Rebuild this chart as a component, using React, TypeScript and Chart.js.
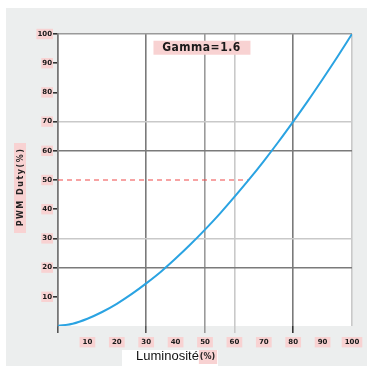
import React, { useEffect, useRef } from "react";
import { Chart, registerables } from "chart.js";

Chart.register(...registerables);

const luminosity = [0, 5, 10, 15, 20, 25, 30, 35, 40, 45, 50, 55, 60, 65, 70, 75, 80, 85, 90, 95, 100];
const pwmDuty = [0, 0.8, 2.5, 4.8, 7.6, 10.9, 14.6, 18.6, 23.1, 27.9, 33.0, 38.4, 44.2, 50.2, 56.5, 63.1, 70.0, 77.1, 84.5, 92.1, 100];
const refLineX = [0, 65];
const refLineY = [50, 50];
const xTickLabels = ["10", "20", "30", "40", "50", "60", "70", "80", "90", "100"];
const yTickLabels = ["10", "20", "30", "40", "50", "60", "70", "80", "90", "100"];
const annotationText = "Gamma=1.6";
const xTitleMain = "Luminosité";
const xTitleUnit = "(%)";
const yTitle = "PWM Duty(%)";

const DARK = "#7a7a7a";
const MED = "#9a9a9a";
const LIGHT = "#c9c9c9";
const PINK = "#f8d2d2";

const xGridStyle: Record<number, string> = { 30: DARK, 50: MED, 60: LIGHT, 80: DARK, 100: LIGHT };
const yGridStyle: Record<number, string> = { 20: DARK, 30: LIGHT, 60: DARK, 70: LIGHT, 100: MED };
const xTickStyle: Record<number, string> = { 0: "#555", 30: "#555", 50: MED, 60: LIGHT, 80: "#333" };

const decorPlugin = {
  id: "decor",
  beforeDraw(chart: any) {
    const c = chart.ctx;
    c.save();
    c.fillStyle = "#ffffff";
    c.fillRect(0, 0, chart.width, chart.height);
    c.fillStyle = "#eceeee";
    c.fillRect(6, 8, chart.width - 6, chart.height - 8);
    const a = chart.chartArea;
    c.fillStyle = "#ffffff";
    c.fillRect(a.left, a.top, a.right - a.left, a.bottom - a.top);
    c.restore();
  },
  afterDraw(chart: any) {
    const c = chart.ctx;
    const xs = chart.scales.x;
    const ys = chart.scales.y;
    c.save();
    // Gamma annotation
    const gx = xs.getPixelForValue(48.8);
    const gy = ys.getPixelForValue(95.3);
    c.fillStyle = PINK;
    c.fillRect(gx - 48, gy - 7, 97, 14);
    c.font = "bold 12px 'DejaVu Sans Condensed', 'DejaVu Sans'";
    (c as any).letterSpacing = "0.5px";
    c.fillStyle = "#1a1a1a";
    c.textAlign = "center";
    c.textBaseline = "middle";
    c.fillText(annotationText, gx, gy + 0.5);
    (c as any).letterSpacing = "0px";
    // X title
    c.fillStyle = "#ffffff";
    c.fillRect(122, 350, 96, 16);
    c.font = "13px 'Liberation Sans'";
    c.fillStyle = "#111";
    c.textAlign = "left";
    c.textBaseline = "middle";
    c.fillText(xTitleMain, 136, 356);
    const mw = c.measureText(xTitleMain).width;
    c.font = "bold 8px 'DejaVu Sans'";
    const uw = c.measureText(xTitleUnit).width;
    c.fillStyle = PINK;
    c.fillRect(136 + mw, 350, uw + 3, 14);
    c.fillStyle = "#222";
    c.fillText(xTitleUnit, 137 + mw, 357);
    // Y title
    c.translate(20, 188);
    c.rotate(-Math.PI / 2);
    c.fillStyle = PINK;
    c.fillRect(-45, -6, 90, 12);
    c.font = "bold 8px 'DejaVu Sans'";
    (c as any).letterSpacing = "1.5px";
    c.fillStyle = "#222";
    c.textAlign = "center";
    c.textBaseline = "middle";
    c.fillText(yTitle, 1, 0.5);
    c.restore();
  },
};

export default function App() {
  const ref = useRef<HTMLCanvasElement>(null);
  useEffect(() => {
    if (!ref.current) return;
    const chart = new Chart(ref.current, {
      type: "line",
      data: {
        datasets: [
          {
            data: luminosity.map((x, i) => ({ x, y: pwmDuty[i] })),
            borderColor: "#2aa3e2",
            borderWidth: 2,
            pointRadius: 0,
            tension: 0.3,
            fill: false,
          },
          {
            data: refLineX.map((x, i) => ({ x, y: refLineY[i] })),
            borderColor: "#f04848",
            borderWidth: 1.2,
            borderDash: [5, 4],
            pointRadius: 0,
            fill: false,
          },
        ],
      },
      options: {
        responsive: false,
        animation: false,
        plugins: { legend: { display: false }, tooltip: { enabled: false }, title: { display: false } },
        layout: { padding: { left: 0, top: 34, right: 15, bottom: 0 } },
        scales: {
          x: {
            type: "linear",
            min: 0,
            max: 100,
            afterFit: (s: any) => { s.height = 40; },
            border: { display: false },
            grid: {
              color: (ctx: any) => xGridStyle[ctx.tick?.value] || "rgba(0,0,0,0)",
              tickColor: (ctx: any) => xTickStyle[ctx.tick?.value] || "rgba(0,0,0,0)",
              lineWidth: 1.6,
              tickLength: 7,
              drawOnChartArea: true,
            },
            ticks: {
              stepSize: 10,
              maxRotation: 0,
              autoSkip: false,
              padding: 5,
              color: "#1a1a1a",
              font: { size: 7, weight: "bold", family: "DejaVu Sans" },
              callback: (v: any) => (v === 0 ? "" : xTickLabels[Math.round(v / 10) - 1]),
              showLabelBackdrop: true,
              backdropColor: (ctx: any) => (ctx.tick?.value === 0 ? "rgba(0,0,0,0)" : PINK),
              backdropPadding: { x: 3, y: 1 },
            } as any,
          },
          y: {
            type: "linear",
            min: 0,
            max: 100,
            afterFit: (s: any) => { s.width = 58; },
            border: { display: true, color: "#777", width: 1.8 },
            grid: {
              color: (ctx: any) => yGridStyle[ctx.tick?.value] || "rgba(0,0,0,0)",
              tickColor: (ctx: any) => (ctx.tick?.value === 0 ? "rgba(0,0,0,0)" : "#333"),
              lineWidth: 1.6,
              tickLength: 6,
            },
            ticks: {
              stepSize: 10,
              autoSkip: false,
              padding: 0,
              color: "#1a1a1a",
              font: { size: 7, weight: "bold", family: "DejaVu Sans" },
              callback: (v: any) => (v === 0 ? "" : yTickLabels[Math.round(v / 10) - 1]),
              showLabelBackdrop: true,
              backdropColor: (ctx: any) => (ctx.tick?.value === 0 ? "rgba(0,0,0,0)" : PINK),
              backdropPadding: { x: 1, y: 1 },
            } as any,
          },
        },
      },
      plugins: [decorPlugin],
    });
    return () => chart.destroy();
  }, []);
  return (
    <div style={{ position: "fixed", left: 0, top: 0, width: 367, height: 366 }}>
      <canvas ref={ref} width={367} height={366} />
    </div>
  );
}
